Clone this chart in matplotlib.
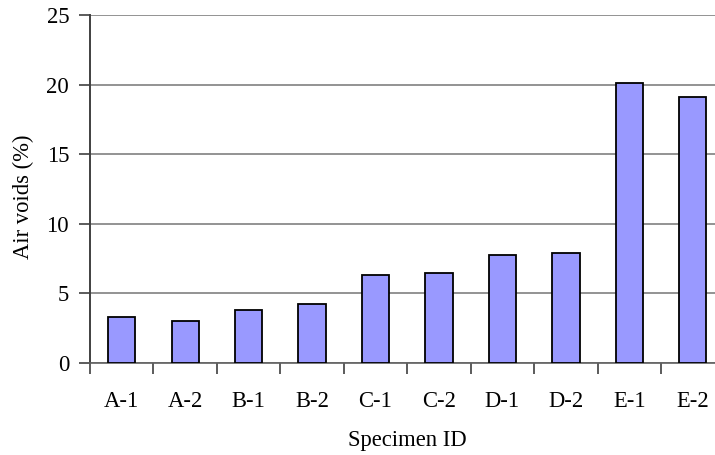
import numpy as np
import matplotlib
matplotlib.use('Agg')
import matplotlib.pyplot as plt

# data
specimens = ['A-1', 'A-2', 'B-1', 'B-2', 'C-1', 'C-2', 'D-1', 'D-2', 'E-1', 'E-2']
air_voids = [3.3, 3.0, 3.8, 4.25, 6.3, 6.5, 7.75, 7.9, 20.1, 19.1]
y_ticks = [0, 5, 10, 15, 20, 25]

plt.rcParams['font.family'] = ['Liberation Serif', 'DejaVu Serif']

fig = plt.figure(figsize=(7.15, 4.55), dpi=100)
# axes runs a bit past the right edge, like the original crop
ax = fig.add_axes([90 / 715, 1 - 363 / 455, 634.5 / 715, 348 / 455])

x = np.arange(len(specimens))
ax.bar(x, air_voids, width=0.43, color='#9999FF', edgecolor='black',
       linewidth=1.3, zorder=3)

ax.set_xlim(-0.5, len(specimens) - 0.5)
ax.set_ylim(0, 25)
ax.set_yticks(y_ticks)
ax.yaxis.grid(True, color='#808080', linewidth=1.2, zorder=0)
ax.set_axisbelow(True)

ax.set_xticks(x)
ax.set_xticklabels(specimens)
ax.set_xticks(np.arange(len(specimens) + 1) - 0.5, minor=True)
ax.tick_params(axis='x', which='major', length=0, pad=20, labelsize=16.3)
ax.tick_params(axis='x', which='minor', length=8, width=1.2, color='#404040', direction='out')
ax.tick_params(axis='y', length=8, width=1.2, color='#404040', labelsize=16.3, pad=7)

for side in ['top', 'right']:
    ax.spines[side].set_visible(False)
ax.spines['left'].set_color('#404040')
ax.spines['left'].set_linewidth(1.4)
ax.spines['bottom'].set_color('#606060')
ax.spines['bottom'].set_linewidth(1.2)

ax.set_ylabel('Air voids (%)', fontsize=16.3)
ax.yaxis.set_label_coords(-0.088, 0.477)
ax.set_xlabel('Specimen ID', fontsize=16.3, labelpad=13)

fig.savefig('out.png', dpi=100)
